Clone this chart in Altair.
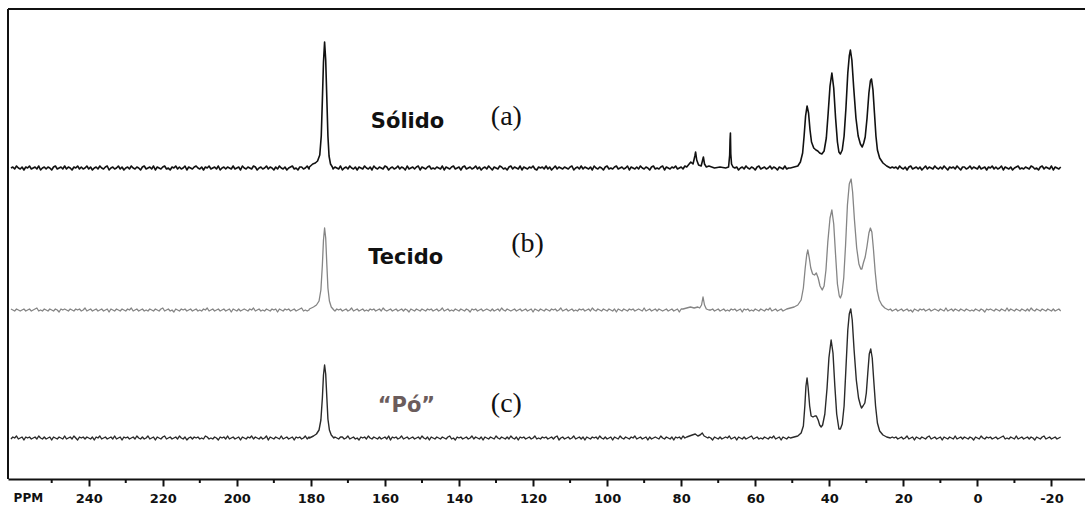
import altair as alt
import pandas as pd

# ---------------------------------------------------------------------------
# 13C CP/MAS NMR spectra of three samples, stacked vertically.
# Intensities are in arbitrary units; each trace sits on its own offset.
# ---------------------------------------------------------------------------

# baseline sampling grid (ppm, 0.5 ppm step, 261 -> -22.5)
GRID = [p / 2 for p in range(522, -46, -1)]

# vertical offset of each stacked trace
OFFSET_A = 311
OFFSET_B = 169
OFFSET_C = 41

# baseline noise of each trace, one value per grid point
NOISE_A = [
    0, 1, -1, 2, 0, -1, 1, -2, 1, 0,
    2, -1, 0, 1, -1, 2, -2, 0, 1, -1,
    1, 0, -2, 1, 2, -1, 0, 1, -1, 2,
    -1, 1, 0, -2, 1, 0, 2, -1, 1, -1,
    0, 2, -1, 1, -2, 0, 1, -1, 2, 0,
    -1, 1, 2, -2, 0, 1, -1, 0, 2, -1,
    1, -2, 0, 1, -1, 2, 0, -1, 1, 0,
    -2, 1, 2, -1, 0, 1, -1, 2, -2, 1,
    0, -1, 1, 2, -1, 0, -2, 1, 0, 2,
    -1, 1, -1, 0, 2, -2, 1, 0, -1, 1,
    2, 0, -1, 1, -2, 1, 0, 2, -1, 0,
    1, -1, 2, -2, 0, 1, -1, 1, 0, -1,
    2, -1, 0, 1, -2, 2, 0, -1, 1, 0,
    -1, 2, 1, -2, 0, 1, -1, 0, 2, -1,
    1, 0, -2, 1, -1, 2, 0, -1, 1, -2,
    0, 1, 2, -1, 0, -2, 1, 1, -1, 0,
    2, -1, 1, 0, -2, 1, -1, 2, 0, -1,
    1, -2, 0, 2, -1, 1, 0, -1, 2, -2,
    0, 1, -1, 2, 0, -1, 1, -2, 1, 0,
    -1, 2, 0, -1, 1, -2, 2, 0, -1, 1,
    0, -1, 2, 1, -2, 0, 1, -1, 0, 2,
    -1, 1, 0, -2, 2, -1, 0, 1, -1, 1,
    2, -2, 1, 0, -1, 1, 2, -1, 0, -1,
    1, 0, -1, 2, -2, 1, 0, -1, 1, 2,
    -1, 0, 1, -2, 1, 2, -1, 0, 1, -1,
    0, 2, -1, 1, -2, 0, 1, -1, 2, 0,
    -2, 1, 0, -1, 2, 1, -1, 0, -2, 1,
    2, -1, 1, 0, -1, 2, -2, 1, 0, -1,
    1, 0, 2, -1, -2, 1, 0, 1, -1, 2,
    -1, 1, -2, 0, 2, -1, 1, 0, -1, 1,
    0, -1, 1, 2, -2, 0, 1, -1, 2, -1,
    1, 0, -1, 1, -2, 2, 0, -1, 1, 0,
    -2, 1, 2, -1, 0, -1, 1, 2, -1, 0,
    1, -1, 0, 2, -2, 1, 0, -1, 1, -1,
    2, 0, -1, 1, 0, -2, 1, 2, -1, 0,
    -1, 1, 2, -2, 1, 0, -1, 1, 0, 2,
    -1, 0, 1, -1, 2, -2, 0, 1, -1, 1,
    0, 2, -1, 0, 1, -2, 1, 0, 2, -1,
    1, -1, 0, 2, -1, 1, -2, 0, 1, 0,
    -1, 2, 1, -2, 0, 1, -1, 2, 0, -1,
    1, 0, -2, 1, 2, -1, 0, 1, -1, 0,
    2, -1, 1, 0, -2, 1, 0, -1, 2, -1,
    0, 1, -1, 2, -2, 0, 1, 0, -1, 1,
    -2, 2, 0, -1, 1, 0, -1, 2, -1, 0,
    1, -1, 2, 0, -2, 1, -1, 0, 1, 2,
    -1, 0, 1, -2, 2, -1, 0, 1, -1, 1,
    0, 2, -1, 1, 0, -2, 1, -1, 2, 0,
    -1, 1, 0, 2, -1, -2, 1, 0, 1, -1,
    2, 0, -1, 1, -2, 1, 2, -1, 0, 1,
    -1, 1, -2, 0, 2, -1, 1, 0, -1, 2,
    0, -1, 1, -1, 2, 0, -2, 1, 0, 1,
    -1, 2, 0, -2, 1, 1, -1, 0, 2, -1,
    1, 0, -1, 2, -1, 0, 1, -2, 1, 0,
    2, -1, 1, -1, 0, 2, -2, 1, 0, -1,
    1, -2, 0, 1, 2, -1, 0, -1, 1, 0,
    -1, 2, 1, -1, 0, -2, 1, 2, -1, 1,
    0, -1, 2, -2, 1, 0, -1, 1,
]
NOISE_B = [
    1, 0, -1, 1, 0, -1, 0, 1, -1, 0,
    1, -1, 0, 1, 2, -1, 0, -1, 1, 0,
    -1, 1, 0, -1, 1, 0, -2, 1, 0, 1,
    0, -1, 1, 0, -1, 1, 0, 1, -1, 0,
    2, -1, 0, 1, -1, 0, 1, -1, 0, 1,
    -1, 0, 1, -2, 1, 0, -1, 1, 0, -1,
    1, 0, -1, 1, 0, 2, -1, 0, 1, -1,
    0, 1, -1, 0, -1, 1, 0, -1, 1, 0,
    -1, 1, 2, -1, 0, 1, -1, 0, -2, 1,
    0, -1, 1, 0, 1, -1, 0, 1, -1, 0,
    1, -1, 0, -1, 1, 0, 2, -1, 0, 1,
    -1, 0, 1, -1, 0, 1, -1, 0, 1, -2,
    1, 0, -1, 1, -1, 0, 1, 0, -1, 1,
    0, 2, -1, 0, 1, -1, 0, -1, 1, 0,
    -1, 1, 0, 1, -2, 1, 0, -1, 1, 0,
    1, -1, 0, 1, -1, 0, 1, 2, -1, 0,
    -1, 0, 1, -1, 1, 0, -1, 1, 0, -1,
    1, 0, -2, 1, 0, -1, 1, 0, 1, -1,
    0, 1, -1, 0, 2, -1, 0, 1, -1, 0,
    1, -1, 0, -1, 1, 0, 1, -1, 0, 1,
    -1, 2, 0, -1, 0, 1, -1, 0, 1, -1,
    0, 1, -1, 1, 0, -2, 1, 0, -1, 1,
    0, -1, 1, 0, -1, 1, 0, 1, -1, 0,
    1, -1, 0, 2, -1, 0, 1, -1, 0, -1,
    1, 0, -1, 1, 0, -1, 1, 0, -2, 1,
    0, 1, -1, 0, 1, -1, 0, 1, 0, -1,
    1, -1, 0, 1, -1, 2, 0, -1, 1, 0,
    -1, 0, 1, -1, 0, 1, -1, 0, 1, -1,
    0, 1, -2, 1, 0, -1, 1, 0, -1, 1,
    0, -1, 1, 0, 1, -1, 0, 2, -1, 0,
    1, -1, 0, 1, -1, 0, -1, 1, 0, 1,
    -1, 0, 1, -1, 2, 0, -1, 1, 0, -1,
    1, 0, -1, 1, 0, -1, 1, -2, 1, 0,
    -1, 1, 0, -1, 1, 0, 1, -1, 0, 1,
    0, -1, 2, -1, 0, 1, -1, 0, 1, -1,
    1, 0, -1, 0, 1, -1, 0, 1, -1, 0,
    1, -2, 1, 0, -1, 1, 0, -1, 1, 0,
    -1, 1, 0, 1, -1, 0, 2, -1, 0, 1,
    -1, 0, 1, -1, 0, 1, -1, 0, -1, 1,
    0, 1, -1, 0, 1, -2, 1, 0, 1, -1,
    0, -1, 1, 0, -1, 1, 0, -1, 1, 0,
    2, -1, 0, 1, -1, 0, 1, -1, 0, -1,
    1, 0, -1, 1, 0, -1, 1, 0, 2, -1,
    0, 1, -1, 0, -1, 1, 0, 1, -1, 0,
    1, -1, 0, -2, 1, 0, -1, 1, 0, 1,
    -1, 0, 1, -1, 0, 1, -1, 2, 0, -1,
    1, 0, -1, 1, 0, -1, 0, 1, -1, 0,
    1, -1, 2, -1, 0, 1, -1, 0, 1, -1,
    0, 1, -1, 0, 1, -1, 0, -2, 1, 0,
    -1, 1, 0, 1, -1, 0, 1, -1, 0, 1,
    0, -1, 1, 0, -1, 2, -1, 0, 1, -1,
    1, 0, -1, 1, 0, -1, 1, 0, -1, 0,
    -1, 1, 0, -1, 1, 0, -2, 1, 0, 1,
    0, -1, 1, 0, -1, 1, 0, -1, 2, -1,
    1, 0, -1, 1, 0, -1, 1, 0, -1, 1,
    -1, 2, 0, -1, 1, 0, -1, 1, 0, -1,
    1, 0, -1, 1, -1, 0, 1, -1,
]
NOISE_C = [
    -1, 1, 0, 2, -1, 0, 1, -2, 1, 0,
    1, -1, 0, 1, -1, 2, 0, -1, 1, -1,
    0, 1, -2, 1, 0, -1, 1, 0, -1, 2,
    -1, 0, 1, -1, 2, 0, -2, 1, 0, 1,
    -1, 1, 0, -1, 1, -2, 1, 0, 2, -1,
    0, 1, -1, 0, 1, -1, 2, -1, 0, 1,
    -2, 1, 0, 1, -1, 0, 1, -1, 2, 0,
    -1, 1, -1, 0, 2, -1, 0, 1, -2, 1,
    0, -1, 1, 2, -1, 0, 1, -1, 0, 1,
    -1, 2, 0, -1, 1, -2, 0, 1, -1, 1,
    0, 1, -1, 0, -1, 2, 1, -1, 0, -1,
    1, 0, -2, 1, 0, 1, -1, 2, -1, 0,
    1, -1, 0, 1, -2, 1, 0, -1, 1, 0,
    2, -1, 1, 0, -1, 1, -1, 0, 2, -2,
    1, 0, -1, 1, 0, -1, 2, -1, 0, 1,
    -1, 0, 1, -2, 1, 0, 1, -1, 0, 2,
    -1, 1, 0, -1, 1, -1, 0, 2, -1, 0,
    1, -2, 1, 0, -1, 1, 0, -1, 1, 1,
    -1, 0, 2, -1, 0, 1, -1, 0, -2, 1,
    0, 1, -1, 2, 0, -1, 1, 0, -1, 1,
    -1, 0, 1, -1, 2, -2, 1, 0, 1, -1,
    0, 2, -1, 0, 1, -1, 0, 1, -1, 0,
    1, -1, 2, 0, -1, 1, -2, 1, 0, -1,
    1, 0, -1, 1, 0, -1, 1, 2, -1, 0,
    -2, 1, 0, 1, -1, 0, 1, -1, 0, 2,
    -1, 1, 0, -1, 1, -2, 1, 0, -1, 1,
    0, -1, 2, 0, -1, 1, 0, -1, 1, -1,
    2, 0, -1, 1, -2, 1, 0, 1, -1, 0,
    1, -1, 0, 2, -1, 0, -1, 1, 0, 1,
    -1, 0, 1, -1, 1, 2, -2, 0, 1, -1,
    0, 1, -1, 0, 2, -1, 0, 1, -1, 1,
    -2, 1, 0, -1, 1, 0, 1, -1, 2, 0,
    -1, 1, -1, 0, 1, -2, 1, 0, -1, 2,
    0, -1, 1, 0, -1, 1, 0, 2, -1, 0,
    1, -1, 0, 1, -2, 1, -1, 0, 1, 0,
    -1, 2, 0, -1, 1, 0, -1, 1, -2, 1,
    0, 1, -1, 2, 0, -1, 1, -1, 0, 1,
    -1, 0, 1, -1, 0, 2, -1, 1, 0, -2,
    1, 0, -1, 1, -1, 0, 1, 0, 2, -1,
    0, 1, -2, 1, 0, -1, 1, -1, 0, 1,
    2, -1, 0, 1, -1, 0, -1, 1, 0, -1,
    1, 0, 2, -1, 0, 1, -2, 1, 0, -1,
    1, -1, 0, 1, -1, 2, 0, -1, 1, 0,
    -1, 1, 0, -2, 1, 0, 1, -1, 0, 2,
    -1, 0, 1, -1, 1, 0, -1, 2, -1, 0,
    1, -2, 1, 0, -1, 1, 0, -1, 1, 0,
    2, -1, 0, 1, -1, 0, 1, -2, 1, 0,
    -1, 1, 2, -1, 0, -1, 1, 0, 1, -1,
    0, 1, -1, 0, 2, -1, 0, 1, -2, 1,
    0, -1, 1, 0, -1, 1, 2, -1, 0, 1,
    -1, 0, 1, -2, 1, 0, -1, 1, 0, -1,
    2, -1, 0, 1, -1, 1, 0, -1, 1, 0,
    -2, 1, 0, -1, 2, 0, -1, 1, 0, 1,
    -1, 0, 1, -1, 0, 1, 2, -1, 0, -1,
    1, 0, -1, 2, -1, 0, 1, -1, 0, 1,
    -1, 1, 0, -2, 1, 0, -1, 1, 2, -1,
    0, 1, -1, 0, 1, -1, 0, 1,
]

# carbonyl resonance (ppm, intensity)
CARBONYL_A = [(180.4, 1), (179.5, 4), (178.8, 5), (178.2, 7), (177.6, 13), (177.2, 32),
              (176.9, 68), (176.6, 106), (176.3, 126), (176.0, 108), (175.7, 70),
              (175.4, 32), (175.1, 12), (174.7, 4), (174.2, 1)]
CARBONYL_B = [(180.4, 1), (179.3, 3), (178.5, 5), (177.8, 9), (177.3, 20), (176.9, 45),
              (176.6, 70), (176.3, 82), (176.0, 72), (175.7, 46), (175.4, 22),
              (175.0, 9), (174.5, 3), (173.8, 0)]
CARBONYL_C = [(180.4, 0), (179.3, 2), (178.5, 4), (177.8, 8), (177.3, 18), (176.9, 40),
              (176.6, 63), (176.3, 73), (176.0, 64), (175.7, 41), (175.4, 19),
              (175.0, 8), (174.5, 3), (173.8, 0)]

# weak signals between 65 and 80 ppm
MINOR_A = [(78.5, 1), (77.4, 6), (76.8, 4), (76.3, 12), (76.1, 16), (75.8, 8), (75.3, 3),
           (74.6, 2), (74.2, 8), (74.0, 11), (73.7, 4), (73.2, 1), (72.5, 2), (71.0, 0),
           (69.5, 1), (68.0, 0), (67.2, 1), (66.9, 13), (66.8, 28), (66.7, 35),
           (66.6, 14), (66.4, 4), (66.0, 1), (65.5, 0)]
MINOR_B = [(79.5, 1), (77.5, 3), (76.5, 2), (75.5, 3), (75.0, 2), (74.5, 5), (74.1, 13),
           (73.7, 5), (73.2, 1), (72.5, 0)]
MINOR_C = [(78.5, 1), (77.0, 3), (76.2, 4), (75.5, 2), (74.9, 3), (74.3, 5), (73.8, 2),
           (72.8, 0)]

# aliphatic CH2 region
ALIPHATIC_A = [(50.5, 0), (48.5, 2), (47.8, 6), (47.2, 15), (46.8, 32), (46.4, 52),
               (46.0, 62), (45.6, 55), (45.2, 38), (44.8, 26), (44.2, 20), (43.6, 18),
               (43.1, 17), (42.6, 15), (42.0, 14), (41.4, 17), (40.8, 30), (40.3, 55),
               (39.8, 82), (39.3, 95), (38.8, 80), (38.3, 50), (37.8, 26), (37.4, 16),
               (37.0, 14), (36.5, 18), (36.0, 32), (35.5, 60), (35.0, 95), (34.6, 112),
               (34.3, 118), (33.9, 108), (33.4, 80), (32.8, 50), (32.2, 32), (31.6, 24),
               (31.1, 21), (30.7, 25), (30.3, 31), (29.8, 50), (29.3, 75), (28.9, 87),
               (28.6, 89), (28.2, 78), (27.8, 55), (27.4, 32), (27.0, 18), (26.4, 10),
               (25.5, 5), (24.5, 2), (23.5, 0)]
ALIPHATIC_B = [(51.5, 1), (49.5, 3), (48.5, 5), (47.6, 10), (47.0, 22), (46.5, 42),
               (46.1, 55), (45.8, 60), (45.4, 52), (45.0, 42), (44.5, 36), (44.0, 35),
               (43.5, 37), (43.0, 32), (42.5, 24), (41.9, 20), (41.4, 24), (40.9, 40),
               (40.4, 68), (39.8, 92), (39.3, 100), (38.8, 86), (38.3, 55), (37.8, 26),
               (37.3, 14), (37.0, 12), (36.6, 16), (36.1, 32), (35.6, 65), (35.1, 105),
               (34.6, 126), (34.1, 131), (33.7, 118), (33.2, 90), (32.6, 62), (32.0, 46),
               (31.5, 41), (31.2, 41), (30.8, 47), (30.3, 53), (29.8, 64), (29.3, 77),
               (28.9, 82), (28.5, 78), (28.1, 62), (27.6, 38), (27.1, 20), (26.5, 10),
               (25.8, 5), (25.0, 2), (24.0, 0)]
ALIPHATIC_C = [(50.5, 0), (48.5, 2), (47.6, 5), (47.0, 12), (46.6, 32), (46.3, 52),
               (46.0, 60), (45.7, 50), (45.3, 32), (44.9, 22), (44.4, 21), (43.9, 22),
               (43.5, 22), (43.0, 18), (42.6, 13), (42.2, 11), (41.8, 13), (41.2, 24),
               (40.6, 50), (40.1, 80), (39.5, 98), (39.0, 85), (38.5, 52), (38.0, 24),
               (37.4, 9), (37.0, 9), (36.5, 14), (36.0, 32), (35.5, 70), (35.0, 108),
               (34.6, 124), (34.2, 129), (33.8, 118), (33.3, 88), (32.7, 58), (32.1, 40),
               (31.6, 33), (31.3, 30), (30.9, 32), (30.4, 35), (30.0, 45), (29.6, 65),
               (29.2, 84), (28.8, 89), (28.4, 80), (28.0, 58), (27.5, 32), (27.0, 15),
               (26.4, 7), (25.5, 3), (24.5, 1), (23.5, 0)]

# axis ticks
MAJOR_TICKS = list(range(-20, 241, 20))
MINOR_TICKS = list(range(-10, 251, 20))

# sample labels: (ppm, height, text)
SAMPLE_NAMES = [(153.9, 357, "Sólido"), (154.4, 221, "Tecido")]
POWDER_NAME = [(154.2, 73, "\u201cPó\u201d")]
PANEL_TAGS = [(127.2, 362, "(a)"), (121.5, 235, "(b)"), (127.2, 75, "(c)")]

W, H = 1077, 470
X_DOMAIN = [-29.06, 261.8]
Y_DOMAIN = [0, 470]


def trace(noise, segments, offset):
    rows = []
    spans = []
    for seg in segments:
        rows.extend(seg)
        ppms = [p for p, _ in seg]
        spans.append((min(ppms), max(ppms)))
    for p, n in zip(GRID, noise):
        if any(lo <= p <= hi for lo, hi in spans):
            continue
        rows.append((p, n))
    df = pd.DataFrame(rows, columns=["ppm", "signal"]).sort_values("ppm")
    df["y"] = df["signal"] + offset
    return df


df_a = trace(NOISE_A, [CARBONYL_A, MINOR_A, ALIPHATIC_A], OFFSET_A)
df_b = trace(NOISE_B, [CARBONYL_B, MINOR_B, ALIPHATIC_B], OFFSET_B)
df_c = trace(NOISE_C, [CARBONYL_C, MINOR_C, ALIPHATIC_C], OFFSET_C)

x_axis = alt.Axis(
    values=MAJOR_TICKS,
    labelExpr="'' + datum.value",
    tickSize=7,
    tickWidth=2,
    tickColor="#111111",
    domainColor="#111111",
    domainWidth=2,
    labelFont="DejaVu Sans",
    labelFontWeight="bold",
    labelFontSize=13,
    labelColor="#111111",
    labelBaseline="middle",
    labelPadding=12,
    labelFlush=False,
    labelOverlap=False,
    grid=False,
    title=None,
)
X = alt.X("ppm:Q", scale=alt.Scale(domain=X_DOMAIN, reverse=True, nice=False, zero=False),
          axis=x_axis)
Y = alt.Y("y:Q", scale=alt.Scale(domain=Y_DOMAIN, nice=False, zero=False), axis=None)


def line(df, color, width):
    return alt.Chart(df).mark_line(color=color, strokeWidth=width,
                                   strokeJoin="round").encode(x=X, y=Y)


lines = [
    line(df_c, "#2a2a2a", 1.4),
    line(df_b, "#858585", 1.3),
    line(df_a, "#111111", 1.6),
]

minor = alt.Chart(pd.DataFrame({"ppm": MINOR_TICKS})).mark_rule(
    color="#111111", strokeWidth=2
).encode(x=X, y=alt.value(H), y2=alt.value(H + 4))

ppm_label = alt.Chart(pd.DataFrame({"ppm": [256.3], "text": ["PPM"]})).mark_text(
    font="DejaVu Sans", fontWeight="bold", fontSize=12, color="#111111", baseline="middle"
).encode(x=X, y=alt.value(H + 19), text="text:N")

frame_top = alt.Chart(pd.DataFrame({"k": [0]})).mark_rule(
    color="#111111", strokeWidth=2
).encode(x=alt.value(0), x2=alt.value(W), y=alt.value(0))
frame_left = alt.Chart(pd.DataFrame({"k": [0]})).mark_rule(
    color="#111111", strokeWidth=2
).encode(x=alt.value(0), y=alt.value(0), y2=alt.value(H))


def labels(rows, **style):
    df = pd.DataFrame(rows, columns=["ppm", "y", "text"])
    return alt.Chart(df).mark_text(baseline="middle", align="center", **style).encode(
        x=X, y=Y, text="text:N")


names = labels(SAMPLE_NAMES, font="DejaVu Sans", fontWeight="bold", fontSize=21,
               color="#111111")
powder = labels(POWDER_NAME, font="DejaVu Sans", fontWeight="bold", fontSize=21,
                color="#6b5c5c")
tags = labels(PANEL_TAGS, font="Liberation Serif", fontSize=28, color="#111111")

chart = alt.layer(
    *lines, minor, ppm_label, frame_top, frame_left, names, powder, tags
).properties(
    width=W,
    height=H,
    padding={"left": 8, "top": 9, "right": 0, "bottom": 27},
    autosize=alt.AutoSizeParams(type="none"),
    background="white",
).configure_view(strokeWidth=0)

chart.save("out.html", embed_options={"renderer": "svg", "actions": False})
